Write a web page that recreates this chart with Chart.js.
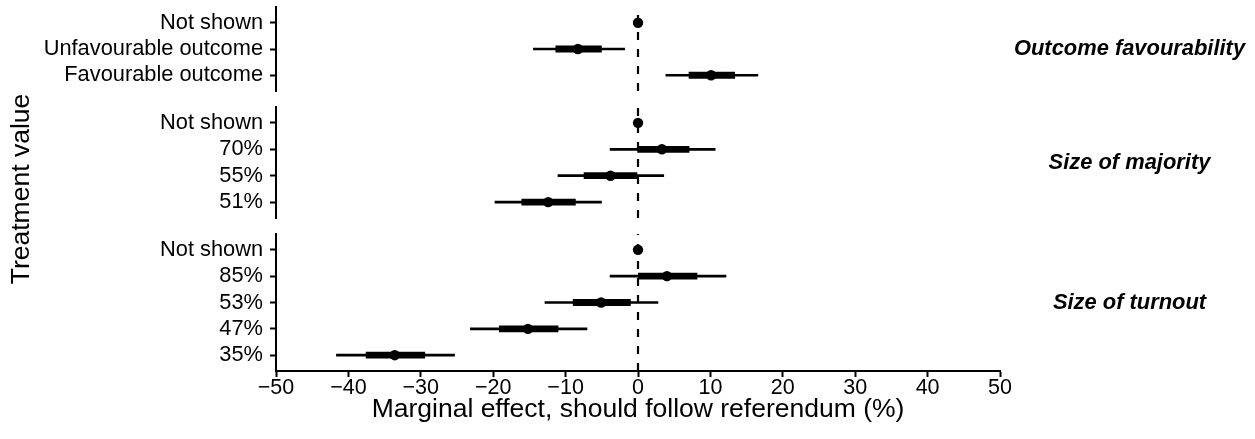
<!DOCTYPE html>
<html>
<head>
<meta charset="utf-8">
<script src="https://cdn.jsdelivr.net/npm/chart.js@4.4.1/dist/chart.umd.min.js"></script>
<style>
  html, body { margin: 0; padding: 0; background: #fff; }
  #wrap { position: relative; width: 1255px; height: 439px; }
  #wrap canvas { position: absolute; left: 0; top: 0; }
</style>
</head>
<body>
<div id="wrap">
  <canvas id="panel-outcome" width="1255" height="439"></canvas>
  <canvas id="panel-majority" width="1255" height="439"></canvas>
  <canvas id="panel-turnout" width="1255" height="439"></canvas>
</div>
<script>
// Outcome favourability
const outcomeLabels = ["Not shown", "Unfavourable outcome", "Favourable outcome"];
const outcomeEst  = [0, -8.3, 10.1];
const outcomeLo95 = [null, -14.5, 3.8];
const outcomeHi95 = [null, -1.8, 16.6];
const outcomeLo90 = [null, -11.4, 7.0];
const outcomeHi90 = [null, -5.0, 13.4];

// Size of majority
const majorityLabels = ["Not shown", "70%", "55%", "51%"];
const majorityEst  = [0, 3.3, -3.8, -12.4];
const majorityLo95 = [null, -3.9, -11.1, -19.8];
const majorityHi95 = [null, 10.7, 3.6, -5.0];
const majorityLo90 = [null, -0.1, -7.5, -16.1];
const majorityHi90 = [null, 7.1, -0.1, -8.6];

// Size of turnout
const turnoutLabels = ["Not shown", "85%", "53%", "47%", "35%"];
const turnoutEst  = [0, 4.0, -5.1, -15.2, -33.6];
const turnoutLo95 = [null, -3.9, -12.9, -23.2, -41.7];
const turnoutHi95 = [null, 12.2, 2.8, -7.0, -25.3];
const turnoutLo90 = [null, 0.0, -9.0, -19.2, -37.6];
const turnoutHi90 = [null, 8.2, -1.0, -11.0, -29.4];

const xTicks = [-50, -40, -30, -20, -10, 0, 10, 20, 30, 40, 50];
const xTitle = "Marginal effect, should follow referendum (%)";
const yTitle = "Treatment value";

const FONT = "'Liberation Sans', Arial, Helvetica, sans-serif";
Chart.defaults.font.family = FONT;
Chart.defaults.color = "#000";

const W = 1255, H = 439;
const PLOT_LEFT = 276, PLOT_RIGHT = 1000;

const charts = [];

const zeroLine = {
  id: "zeroLine",
  beforeDatasetsDraw(chart) {
    const { ctx, chartArea } = chart;
    const x = chart.scales.x.getPixelForValue(0);
    ctx.save();
    ctx.strokeStyle = "#000";
    ctx.lineWidth = 2.2;
    ctx.setLineDash([8, 9]);
    ctx.beginPath();
    ctx.moveTo(x, chartArea.bottom);
    ctx.lineTo(x, chartArea.top);
    ctx.stroke();
    ctx.restore();
  }
};

const stripLabel = {
  id: "stripLabel",
  afterDraw(chart, args, opts) {
    const { ctx, chartArea } = chart;
    ctx.save();
    ctx.font = `italic bold 21.9px ${FONT}`;
    ctx.fillStyle = "#000";
    ctx.textAlign = "center";
    ctx.textBaseline = "middle";
    ctx.fillText(opts.text, (chartArea.right + chart.width) / 2 + 2, (chartArea.top + chartArea.bottom) / 2);
    if (opts.yTitle) {
      const top = charts[0].chartArea.top;
      ctx.font = `26.5px ${FONT}`;
      ctx.translate(22, (top + chartArea.bottom) / 2);
      ctx.rotate(-Math.PI / 2);
      ctx.fillText(opts.yTitle, 0, 0);
    }
    ctx.restore();
  }
};

function noScalePadding(scale) {
  scale.paddingTop = 0;
  scale.paddingBottom = 0;
  scale.paddingLeft = 0;
  scale.paddingRight = 0;
}

function makePanel(id, strip, labels, est, lo95, hi95, lo90, hi90, top, bottom, last) {
  const datasets = [{
    type: "scatter",
    data: est.map((v, i) => ({ x: v, y: i })),
    pointRadius: 5.2,
    pointBackgroundColor: "#000",
    pointBorderWidth: 0,
    order: 0
  }];
  labels.forEach((_, i) => {
    if (lo90[i] === null) return;
    datasets.push({
      type: "line",
      data: [{ x: lo90[i], y: i }, { x: hi90[i], y: i }],
      borderColor: "#000", borderWidth: 6.8, pointRadius: 0, order: 1
    });
    datasets.push({
      type: "line",
      data: [{ x: lo95[i], y: i }, { x: hi95[i], y: i }],
      borderColor: "#000", borderWidth: 2.7, pointRadius: 0, order: 2
    });
  });

  const chart = new Chart(document.getElementById(id), {
    type: "line",
    data: { datasets },
    plugins: [zeroLine, stripLabel],
    options: {
      responsive: false,
      devicePixelRatio: 1,
      animation: false,
      layout: { padding: { top, bottom: last ? 0 : H - bottom, left: 0, right: W - PLOT_RIGHT } },
      plugins: {
        legend: { display: false },
        tooltip: { enabled: false },
        stripLabel: { text: strip, yTitle: last ? yTitle : null }
      },
      scales: {
        x: {
          type: "linear",
          display: last,
          min: -50, max: 50,
          afterBuildTicks: (axis) => { axis.ticks = xTicks.map(v => ({ value: v })); },
          afterFit: (scale) => {
            noScalePadding(scale);
            if (last) scale.height = H - bottom;
          },
          grid: { drawOnChartArea: false, tickLength: 6, tickWidth: 2, tickColor: "#000" },
          border: { display: true, color: "#000", width: 2 },
          ticks: {
            font: { size: 21.5 },
            padding: -2,
            maxRotation: 0,
            callback: (v) => (v < 0 ? "\u2212" + Math.abs(v) : String(v))
          },
          title: { display: true, text: xTitle, font: { size: 26.5 }, padding: { top: 0, bottom: 13 } }
        },
        y: {
          type: "linear",
          reverse: true,
          min: -0.6,
          max: labels.length - 0.4,
          afterBuildTicks: (axis) => { axis.ticks = labels.map((_, i) => ({ value: i })); },
          afterFit: (scale) => {
            noScalePadding(scale);
            scale.width = PLOT_LEFT;
          },
          grid: { drawOnChartArea: false, tickLength: 6, tickWidth: 2, tickColor: "#000" },
          border: { display: true, color: "#000", width: 2 },
          ticks: {
            font: { size: 21.8 },
            padding: 7,
            callback: (v) => labels[v]
          }
        }
      }
    }
  });
  charts.push(chart);
}

makePanel("panel-outcome", "Outcome favourability", outcomeLabels,
  outcomeEst, outcomeLo95, outcomeHi95, outcomeLo90, outcomeHi90, 7, 91, false);
makePanel("panel-majority", "Size of majority", majorityLabels,
  majorityEst, majorityLo95, majorityHi95, majorityLo90, majorityHi90, 107, 218, false);
makePanel("panel-turnout", "Size of turnout", turnoutLabels,
  turnoutEst, turnoutLo95, turnoutHi95, turnoutLo90, turnoutHi90, 234, 371, true);
</script>
</body>
</html>
